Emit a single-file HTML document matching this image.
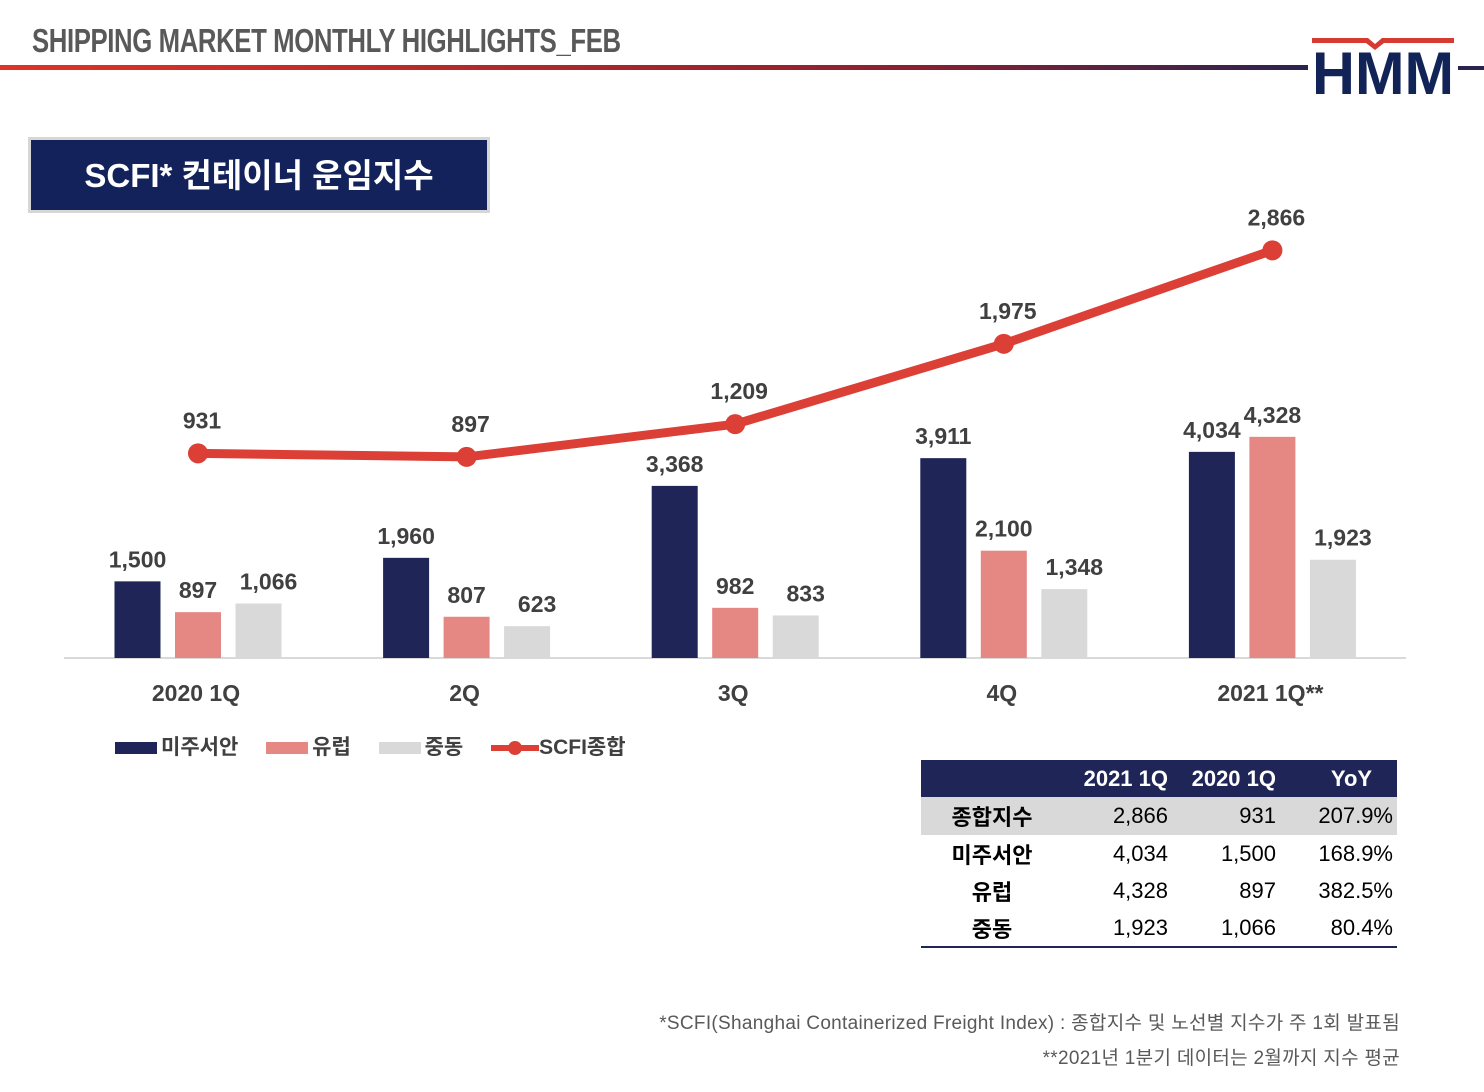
<!DOCTYPE html>
<html><head><meta charset="utf-8">
<style>
body{margin:0;width:1484px;height:1092px;background:#fff;overflow:hidden;position:relative;font-family:"Liberation Sans","Noto Sans CJK KR",sans-serif;}
.abs{position:absolute}
</style></head><body>
<div class="abs" style="left:32px;top:22px;font-family:'Liberation Sans Narrow','Liberation Sans',sans-serif;font-weight:bold;font-size:33px;color:#595959;transform:scaleX(0.78);transform-origin:left top;letter-spacing:-0.5px;">SHIPPING MARKET MONTHLY HIGHLIGHTS_FEB</div>
<div class="abs" style="left:0;top:65px;width:1308px;height:5px;background:linear-gradient(90deg,#e03325,#8a2030 70%,#2a2350);"></div>
<div class="abs" style="left:1458px;top:66px;width:26px;height:4px;background:#2a2350"></div>
<svg class="abs" style="left:1310px;top:34px" width="148" height="66" viewBox="0 0 148 66">
<polygon points="2,4 58,4 65,10 72,4 144,4 144,9 74,9 65,16 56,9 2,9" fill="#d63a30"/>
<text x="73" y="60" text-anchor="middle" font-family="Liberation Sans" font-weight="bold" font-size="60" fill="#112357" textLength="142" lengthAdjust="spacingAndGlyphs">HMM</text>
</svg>
<div class="abs" style="left:28px;top:137px;width:456px;height:70px;background:#13225a;border:3px solid #d6d6d6;color:#fff;font-weight:bold;font-size:33px;line-height:72px;text-align:center;">SCFI* 컨테이너 운임지수</div>

<svg class="abs" id="chart" style="left:0;top:0" width="1484" height="780"></svg>

<div class="abs" style="left:115px;top:735px;font-size:21px;font-weight:bold;color:#404040;height:26px;line-height:26px;white-space:nowrap">
<span><span style="display:inline-block;width:42px;height:12px;background:#1f2557;vertical-align:middle;margin-right:4px"></span>미주서안</span>
<span style="margin-left:22px"><span style="display:inline-block;width:42px;height:12px;background:#e58783;vertical-align:middle;margin-right:4px"></span>유럽</span>
<span style="margin-left:22px"><span style="display:inline-block;width:42px;height:12px;background:#d9d9d9;vertical-align:middle;margin-right:4px"></span>중동</span>
<span style="margin-left:22px"><svg width="48" height="16" style="vertical-align:middle"><line x1="0" y1="8" x2="48" y2="8" stroke="#db3f36" stroke-width="6"/><circle cx="24" cy="8" r="7" fill="#db3f36"/></svg>SCFI종합</span>
</div>

<table class="abs" style="left:921px;top:760px;width:476px;border-collapse:collapse;font-size:22px;color:#000">
<tr style="background:#1f2557;color:#fff;font-weight:bold;height:37px"><td style="width:140px"></td><td style="text-align:right;width:104px">2021 1Q</td><td style="text-align:right;width:106px">2020 1Q</td><td style="text-align:center;padding-left:30px">YoY</td></tr>
<tr style="background:#d9d9d9;height:38px"><td style="text-align:center;font-weight:bold">종합지수</td><td style="text-align:right">2,866</td><td style="text-align:right">931</td><td style="text-align:right;padding-right:4px">207.9%</td></tr>
<tr style="height:37px"><td style="text-align:center;font-weight:bold">미주서안</td><td style="text-align:right">4,034</td><td style="text-align:right">1,500</td><td style="text-align:right;padding-right:4px">168.9%</td></tr>
<tr style="height:38px"><td style="text-align:center;font-weight:bold">유럽</td><td style="text-align:right">4,328</td><td style="text-align:right">897</td><td style="text-align:right;padding-right:4px">382.5%</td></tr>
<tr style="height:37px;border-bottom:2px solid #1f2557"><td style="text-align:center;font-weight:bold">중동</td><td style="text-align:right">1,923</td><td style="text-align:right">1,066</td><td style="text-align:right;padding-right:4px">80.4%</td></tr>
</table>

<div class="abs" style="right:84px;top:1008px;font-size:19px;color:#595959;letter-spacing:0.3px">*SCFI(Shanghai Containerized Freight Index) : 종합지수 및 노선별 지수가 주 1회 발표됨</div>
<div class="abs" style="right:84px;top:1043px;font-size:19px;color:#595959;letter-spacing:0.3px">**2021년 1분기 데이터는 2월까지 지수 평균</div>

<script>
const categories=["2020  1Q","2Q","3Q","4Q","2021  1Q**"];
const usWest=[1500,1960,3368,3911,4034];
const europe=[897,807,982,2100,4328];
const middleEast=[1066,623,833,1348,1923];
const scfi=[931,897,1209,1975,2866];
const fmt=v=>v.toLocaleString('en-US');
const NS="http://www.w3.org/2000/svg";
const svg=document.getElementById('chart');
const baseY=658;
const yBar=v=>baseY-v*0.0511;
const yLine=v=>551-v*0.1049;
const xCenter=i=>198+i*268.6;
function mk(tag,attrs,parent){const e=document.createElementNS(NS,tag);for(const k in attrs)e.setAttribute(k,attrs[k]);(parent||svg).appendChild(e);return e;}
const axis=mk('line',{x1:64,x2:1406,y1:baseY,y2:baseY,stroke:'#d9d9d9','stroke-width':2});


const series=[[usWest,'#1f2557','us'],[europe,'#e58783','europe'],[middleEast,'#d9d9d9','me']];
categories.forEach((c,i)=>{
  series.forEach((s,j)=>{
    const v=s[0][i];const x=xCenter(i)+(j-1)*60.5-23;
    const r=mk('rect',{x:x,y:yBar(v),width:46,height:baseY-yBar(v),fill:s[1]});
    
    
    const t=mk('text',{x:x+23+(j==2?10:0),y:yBar(v)-14,'text-anchor':'middle','font-size':23,'font-weight':'bold',fill:'#404040'});
    t.textContent=fmt(v);
    
    
  });
  const ct=mk('text',{x:xCenter(i)-2,y:701,'text-anchor':'middle','font-size':23,'font-weight':'bold',fill:'#404040','xml:space':'preserve'});
  ct.textContent=c;
  
  
});
const pts=scfi.map((v,i)=>xCenter(i)+','+yLine(v)).join(' ');
const pl=mk('polyline',{points:pts,fill:'none',stroke:'#db3f36','stroke-width':9,'stroke-linejoin':'round'});


scfi.forEach((v,i)=>{
  const c=mk('circle',{cx:xCenter(i),cy:yLine(v),r:10,fill:'#db3f36'});
  
  
  const t=mk('text',{x:xCenter(i)+4,y:yLine(v)-25,'text-anchor':'middle','font-size':23,'font-weight':'bold',fill:'#404040'});
  t.textContent=fmt(v);
  
  
});
</script>
</body></html>
